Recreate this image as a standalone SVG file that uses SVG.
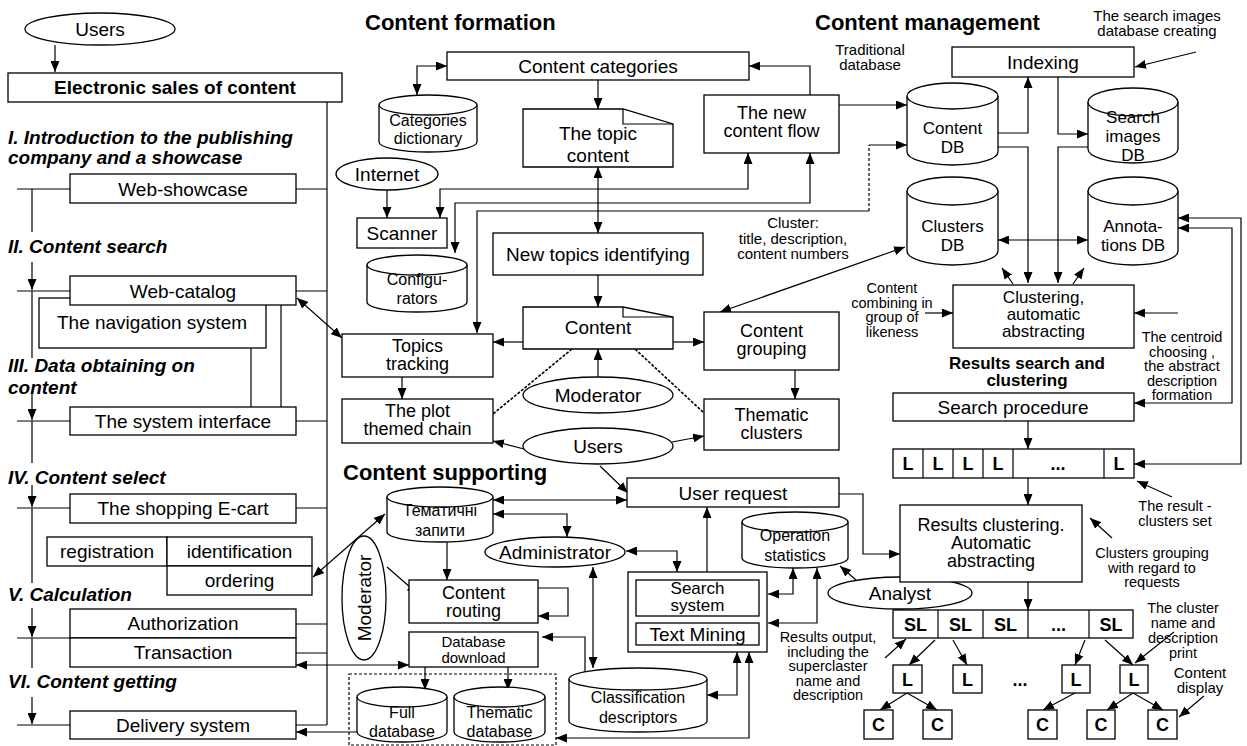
<svg xmlns="http://www.w3.org/2000/svg" width="1247" height="746" viewBox="0 0 1247 746">
<defs>
<marker id="ah" viewBox="0 0 11 9" refX="11" refY="4.5" markerWidth="11" markerHeight="9" markerUnits="userSpaceOnUse" orient="auto-start-reverse"><path d="M0,0 L11,4.5 L0,9 z" fill="#000"/></marker>
<style>
.b{fill:#fff;stroke:#000;stroke-width:1.3}
.l{fill:none;stroke:#000;stroke-width:1.2}
.a{marker-end:url(#ah)}
.d{marker-start:url(#ah);marker-end:url(#ah)}
.dot{stroke-dasharray:3,1.5;stroke-width:1.6}
.dash{stroke-dasharray:3,2}
text{font-family:"Liberation Sans",Arial,sans-serif;fill:#000}
.t{font-size:19px;text-anchor:middle}
.t2{font-size:18px;text-anchor:middle}
.t3{font-size:17px;text-anchor:middle}
.s{font-size:16px;text-anchor:middle}
.n{font-size:15px;text-anchor:middle}
.x{font-size:14.5px;text-anchor:middle}
.m{font-size:17px;text-anchor:middle}
.bi{font-size:19px;font-weight:bold;font-style:italic}
.h{font-size:22px;font-weight:bold}
.bl{font-size:18px;font-weight:bold;text-anchor:middle}
.bt{font-size:17px;font-weight:bold;text-anchor:middle}
</style>
</defs>

<g id="connectors">
<line class="l a" x1="55" y1="45" x2="55" y2="72"/>
<line class="l" x1="327" y1="102" x2="327" y2="725"/>
<path class="l" d="M17,189H70M17,291H70M17,421H70M17,508H70M17,638H70M17,725H70"/>
<path class="l" d="M296,189H327M296,291H327M296,421H327M296,508H327M296,624H327M296,653H327M296,725H327"/>
<path class="l" d="M251,348V407M281,305V407"/>
<path class="l" d="M32,189V232M32,291V358M32,421V463M32,508V583M32,638V668"/>
<line class="l a" x1="32" y1="262" x2="32" y2="290"/>
<line class="l a" x1="32" y1="393" x2="32" y2="420"/>
<line class="l a" x1="32" y1="485" x2="32" y2="507"/>
<line class="l a" x1="32" y1="608" x2="32" y2="637"/>
<line class="l a" x1="32" y1="697" x2="32" y2="724"/>
<line class="l d" x1="297" y1="298" x2="342" y2="338"/>
<line class="l d" x1="313" y1="577" x2="385" y2="514"/>
<line class="l d" x1="296" y1="665" x2="409" y2="665"/>
<line class="l a" x1="357" y1="732" x2="296" y2="732"/>

<path class="l d" d="M417,95V66H447"/>
<line class="l a" x1="598" y1="80" x2="598" y2="109"/>
<path class="l a" d="M810,95V66H749"/>
<line class="l a" x1="839" y1="105" x2="907" y2="105"/>
<path class="l d" d="M440,218V189H748V153"/>
<path class="l d" d="M455,253V203H810V153"/>
<path class="l a" d="M869,211H477V333"/>
<path class="l dash" d="M869,211V145"/>
<path class="l a" d="M869,145H907"/>
<line class="l a" x1="387" y1="190" x2="387" y2="218"/>
<line class="l d" x1="598" y1="167" x2="598" y2="233"/>
<line class="l a" x1="598" y1="275" x2="598" y2="307"/>
<line class="l a" x1="523" y1="342" x2="493" y2="342"/>
<line class="l a" x1="673" y1="342" x2="704" y2="342"/>
<line class="l a" x1="402" y1="377" x2="402" y2="399"/>
<line class="l dot" x1="572" y1="349" x2="493" y2="414"/>
<line class="l dot" x1="635" y1="349" x2="704" y2="413"/>
<line class="l a" x1="598" y1="377" x2="598" y2="349"/>
<line class="l a" x1="795" y1="370" x2="795" y2="399"/>
<line class="l a" x1="524" y1="449" x2="493" y2="441"/>
<line class="l a" x1="672" y1="442" x2="704" y2="436"/>
<line class="l a" x1="600" y1="466" x2="628" y2="493"/>
<line class="l d" x1="720" y1="312" x2="905" y2="247"/>

<line class="l d" x1="493" y1="500" x2="627" y2="500"/>
<path class="l d" d="M493,514H567V537"/>
<line class="l a" x1="447" y1="542" x2="447" y2="580"/>
<path class="l a" d="M538,588H568V616H538"/>
<line class="l a" x1="387" y1="567" x2="418" y2="594"/>
<line class="l a" x1="425" y1="667" x2="425" y2="690"/>
<line class="l a" x1="508" y1="667" x2="508" y2="690"/>
<path class="l a" d="M585,672V637H542"/>
<line class="l d" x1="593" y1="567" x2="593" y2="668"/>
<path class="l d" d="M626,551H677V572"/>
<line class="l a" x1="707" y1="572" x2="707" y2="507"/>
<path class="l d" d="M768,594H793V568"/>
<path class="l d" d="M768,623H817V568"/>
<path class="l d" d="M737,652V695H707"/>
<path class="l d" d="M749,652V738H556"/>
<line class="l a" x1="856" y1="580" x2="840" y2="566"/>
<line class="l a" x1="885" y1="658" x2="906" y2="639"/>

<line class="l a" x1="1196" y1="52" x2="1135" y2="67"/>
<path class="l a" d="M998,133H1028V77"/>
<path class="l a" d="M998,147H1028V283"/>
<path class="l a" d="M1058,77V134H1088"/>
<path class="l a" d="M1088,147H1058V283"/>
<line class="l d" x1="998" y1="240" x2="1088" y2="240"/>
<path class="l d" d="M1178,228H1232V403H1134"/>
<path class="l d" d="M1178,218H1241V464H1134"/>
<line class="l a" x1="1013" y1="284" x2="1002" y2="268"/>
<line class="l a" x1="1073" y1="284" x2="1084" y2="268"/>
<line class="l a" x1="925" y1="313" x2="953" y2="313"/>
<line class="l a" x1="1178" y1="313" x2="1134" y2="313"/>
<line class="l a" x1="1028" y1="421" x2="1028" y2="449"/>
<line class="l a" x1="1028" y1="478" x2="1028" y2="505"/>
<line class="l a" x1="1172" y1="497" x2="1137" y2="481"/>
<line class="l a" x1="1112" y1="538" x2="1090" y2="518"/>
<path class="l a" d="M839,494H863V554H900"/>
<line class="l a" x1="1028" y1="582" x2="1028" y2="610"/>
<line class="l a" x1="1174" y1="632" x2="1135" y2="663"/>
<line class="l a" x1="935" y1="640" x2="909" y2="665"/>
<line class="l a" x1="953" y1="640" x2="967" y2="665"/>
<line class="l a" x1="1085" y1="640" x2="1075" y2="665"/>
<line class="l a" x1="1105" y1="640" x2="1133" y2="665"/>
<line class="l a" x1="907" y1="693" x2="880" y2="710"/>
<line class="l a" x1="907" y1="693" x2="937" y2="710"/>
<line class="l a" x1="1075" y1="693" x2="1043" y2="710"/>
<line class="l a" x1="1133" y1="693" x2="1107" y2="710"/>
<line class="l a" x1="1133" y1="693" x2="1163" y2="710"/>
<line class="l a" x1="1204" y1="696" x2="1179" y2="717"/>
</g>

<g id="users-top"><ellipse class="b" cx="100" cy="29" rx="75" ry="16"/><text class="t" x="100" y="36">Users</text></g>
<g id="electronic-sales"><rect class="b" x="8" y="73" width="334" height="29"/><text x="175" y="94" style="font-size:19px;font-weight:bold;text-anchor:middle">Electronic sales of content</text></g>
<g id="section-titles">
<text class="bi" x="8" y="144">I. Introduction to the publishing</text>
<text class="bi" x="8" y="164">company and a showcase</text>
<text class="bi" x="8" y="253">II. Content search</text>
<text class="bi" x="8" y="372">III. Data obtaining on</text>
<text class="bi" x="8" y="394">content</text>
<text class="bi" x="8" y="484">IV. Content select</text>
<text class="bi" x="8" y="601">V. Calculation</text>
<text class="bi" x="8" y="688">VI. Content getting</text>
</g>
<g id="web-showcase"><rect class="b" x="70" y="174" width="226" height="29"/><text class="t" x="183" y="196">Web-showcase</text></g>
<g id="navigation-system"><rect class="b" x="39" y="298" width="227" height="50"/><text class="t" x="152" y="329">The navigation system</text></g>
<g id="web-catalog"><rect class="b" x="70" y="276" width="226" height="29"/><text class="t" x="183" y="298">Web-catalog</text></g>
<g id="system-interface"><rect class="b" x="70" y="407" width="226" height="28"/><text class="t" x="183" y="428">The system interface</text></g>
<g id="shopping-cart"><rect class="b" x="70" y="494" width="226" height="29"/><text class="t" x="183" y="515">The shopping E-cart</text></g>
<g id="registration"><rect class="b" x="47" y="537" width="120" height="29"/><text class="t" x="107" y="558">registration</text></g>
<g id="identification"><rect class="b" x="167" y="537" width="145" height="29"/><text class="t" x="239.5" y="558">identification</text></g>
<g id="ordering"><rect class="b" x="167" y="566" width="145" height="29"/><text class="t" x="239.5" y="587">ordering</text></g>
<g id="authorization"><rect class="b" x="70" y="609" width="226" height="29"/><text class="t" x="183" y="630">Authorization</text></g>
<g id="transaction"><rect class="b" x="70" y="638" width="226" height="29"/><text class="t" x="183" y="659">Transaction</text></g>
<g id="delivery-system"><rect class="b" x="70" y="711" width="226" height="28"/><text class="t" x="183" y="732">Delivery system</text></g>

<text class="h" x="365" y="30">Content formation</text>
<g id="content-categories"><rect class="b" x="447" y="52" width="302" height="28"/><text class="t" x="598" y="73">Content categories</text></g>
<g id="categories-dictionary"><path class="b" d="M379,105V142A49,10 0 0 0 477,142V105"/><ellipse class="b" cx="428" cy="105" rx="49" ry="10"/><text class="s" x="428" y="126">Categories</text><text class="s" x="428" y="144">dictionary</text></g>
<g id="topic-content"><path class="b" d="M523,109H623L673,124V167H523Z"/><path class="l" d="M623,109V124H673"/><text class="t" x="598" y="140">The topic</text><text class="t" x="598" y="162">content</text></g>
<g id="new-content-flow"><rect class="b" x="704" y="95" width="135" height="58"/><text class="t2" x="771.5" y="119">The new</text><text class="t2" x="771.5" y="137">content flow</text></g>
<g id="internet"><ellipse class="b" cx="387" cy="174" rx="51" ry="16"/><text class="t" x="387" y="181">Internet</text></g>
<g id="scanner"><rect class="b" x="357" y="218" width="90" height="30"/><text class="t" x="402" y="240">Scanner</text></g>
<g id="configurators"><path class="b" d="M367,265V302A50,10 0 0 0 467,302V265"/><ellipse class="b" cx="417" cy="265" rx="50" ry="10"/><text class="s" x="417" y="285">Configu-</text><text class="s" x="417" y="304">rators</text></g>
<g id="new-topics"><rect class="b" x="493" y="233" width="210" height="42"/><text class="t" x="598" y="261">New topics identifying</text></g>
<g id="content"><path class="b" d="M523,307H623L673,317V349H523Z"/><path class="l" d="M623,307V317H673"/><text class="t" x="598" y="334">Content</text></g>
<g id="topics-tracking"><rect class="b" x="342" y="334" width="151" height="43"/><text class="t2" x="417.5" y="352">Topics</text><text class="t2" x="417.5" y="370">tracking</text></g>
<g id="plot-chain"><rect class="b" x="342" y="399" width="151" height="44"/><text class="t2" x="417.5" y="417">The plot</text><text class="t2" x="417.5" y="435">themed chain</text></g>
<g id="moderator"><ellipse class="b" cx="598" cy="395" rx="75" ry="18"/><text class="t" x="598" y="402">Moderator</text></g>
<g id="content-grouping"><rect class="b" x="704" y="312" width="135" height="58"/><text class="t2" x="771.5" y="337">Content</text><text class="t2" x="771.5" y="355">grouping</text></g>
<g id="thematic-clusters"><rect class="b" x="704" y="399" width="135" height="51"/><text class="t2" x="771.5" y="421">Thematic</text><text class="t2" x="771.5" y="439">clusters</text></g>
<g id="users-mid"><ellipse class="b" cx="598" cy="446" rx="75" ry="18"/><text class="t" x="598" y="453">Users</text></g>
<g id="cluster-label"><text class="n" x="793" y="228">Cluster:</text><text class="n" x="793" y="243.5">title, description,</text><text class="n" x="793" y="259">content numbers</text></g>

<text class="h" x="343" y="480">Content supporting</text>
<g id="user-request"><rect class="b" x="627" y="478" width="212" height="29"/><text class="t" x="733" y="500">User request</text></g>
<g id="thematic-queries"><path class="b" d="M387,497V532A53,10 0 0 0 493,532V497"/><ellipse class="b" cx="440" cy="497" rx="53" ry="10"/><text class="s" x="440" y="516">Тематичні</text><text class="s" x="440" y="536">запити</text></g>
<g id="administrator"><ellipse class="b" cx="555" cy="552" rx="70" ry="15"/><text class="t" x="555" y="559">Administrator</text></g>
<g id="content-routing"><rect class="b" x="409" y="580" width="129" height="43"/><text class="t2" x="473.5" y="599">Content</text><text class="t2" x="473.5" y="617">routing</text></g>
<g id="moderator-v"><ellipse class="b" cx="364" cy="598" rx="22" ry="62"/><text class="t" transform="translate(371,598) rotate(-90)">Moderator</text></g>
<g id="database-download"><rect class="b" x="409" y="632" width="129" height="35"/><text class="n" x="473.5" y="647">Database</text><text class="n" x="473.5" y="663">download</text></g>
<g id="db-group"><rect class="l dash" x="349" y="674" width="207" height="71"/></g>
<g id="full-database"><path class="b" d="M357,697V732A45,10 0 0 0 447,732V697"/><ellipse class="b" cx="402" cy="697" rx="45" ry="10"/><text class="s" x="402" y="718">Full</text><text class="s" x="402" y="737">database</text></g>
<g id="thematic-database"><path class="b" d="M454,697V732A45.5,10 0 0 0 545,732V697"/><ellipse class="b" cx="499.5" cy="697" rx="45.5" ry="10"/><text class="s" x="499.5" y="718">Thematic</text><text class="s" x="499.5" y="737">database</text></g>
<g id="classification"><path class="b" d="M569,679V721A69,11 0 0 0 707,721V679"/><ellipse class="b" cx="638" cy="679" rx="69" ry="11"/><text class="s" x="638" y="703">Classification</text><text class="s" x="638" y="723">descriptors</text></g>
<g id="search-system"><rect class="b" x="628" y="572" width="139" height="80"/><rect class="b" x="636" y="580" width="123" height="36"/><rect class="b" x="636" y="623" width="123" height="22"/><text class="t3" x="697.5" y="594">Search</text><text class="t3" x="697.5" y="611">system</text><text class="t" x="697.5" y="641">Text Mining</text></g>
<g id="operation-statistics"><path class="b" d="M742,522V558A53,10 0 0 0 848,558V522"/><ellipse class="b" cx="795" cy="522" rx="53" ry="10"/><text class="s" x="795" y="541">Operation</text><text class="s" x="795" y="561">statistics</text></g>
<g id="analyst"><ellipse class="b" cx="900" cy="593" rx="72" ry="16"/><text class="t" x="900" y="600">Analyst</text></g>
<g id="results-output-label"><text class="x" x="828" y="642">Results output,</text><text class="x" x="828" y="656.5">including the</text><text class="x" x="828" y="671">superclaster</text><text class="x" x="828" y="685.5">name and</text><text class="x" x="828" y="700">description</text></g>

<text class="h" x="815" y="30">Content management</text>
<g id="traditional-label"><text class="n" x="870" y="55">Traditional</text><text class="n" x="870" y="70">database</text></g>
<g id="search-images-label"><text class="n" x="1157" y="21">The search images</text><text class="n" x="1157" y="36">database creating</text></g>
<g id="indexing"><rect class="b" x="952" y="47" width="182" height="30"/><text class="t" x="1043" y="69">Indexing</text></g>
<g id="content-db"><path class="b" d="M907,96V152A45.5,13 0 0 0 998,152V96"/><ellipse class="b" cx="952.5" cy="96" rx="45.5" ry="13"/><text class="m" x="952.5" y="134">Content</text><text class="m" x="952.5" y="153">DB</text></g>
<g id="search-images-db"><path class="b" d="M1088,102V149A45,14 0 0 0 1178,149V102"/><ellipse class="b" cx="1133" cy="102" rx="45" ry="14"/><text class="m" x="1133" y="123">Search</text><text class="m" x="1133" y="142">images</text><text class="m" x="1133" y="161">DB</text></g>
<g id="clusters-db"><path class="b" d="M907,191V251A45.5,14 0 0 0 998,251V191"/><ellipse class="b" cx="952.5" cy="191" rx="45.5" ry="14"/><text class="m" x="952.5" y="232">Clusters</text><text class="m" x="952.5" y="251">DB</text></g>
<g id="annotations-db"><path class="b" d="M1088,191V251A45,14 0 0 0 1178,251V191"/><ellipse class="b" cx="1133" cy="191" rx="45" ry="14"/><text class="m" x="1133" y="232">Annota-</text><text class="m" x="1133" y="251">tions DB</text></g>
<g id="clustering"><rect class="b" x="953" y="285" width="181" height="63"/><text class="t3" x="1043.5" y="303">Clustering,</text><text class="t3" x="1043.5" y="320">automatic</text><text class="t3" x="1043.5" y="337">abstracting</text></g>
<g id="combining-label"><text class="x" x="892" y="293">Content</text><text class="x" x="892" y="307.5">combining in</text><text class="x" x="892" y="322">group of</text><text class="x" x="892" y="336.5">likeness</text></g>
<g id="centroid-label"><text class="x" x="1182" y="342">The centroid</text><text class="x" x="1182" y="356.5">choosing ,</text><text class="x" x="1182" y="371">the abstract</text><text class="x" x="1182" y="385.5">description</text><text class="x" x="1182" y="400">formation</text></g>
<g id="results-title"><text class="bt" x="1027" y="369">Results search and</text><text class="bt" x="1027" y="386">clustering</text></g>
<g id="search-procedure"><rect class="b" x="893" y="393" width="241" height="28"/><text class="t" x="1013" y="414">Search procedure</text></g>
<g id="l-bar"><rect class="b" x="893" y="449" width="241" height="29"/><path class="l" d="M923,449V478M953,449V478M983,449V478M1013,449V478M1104,449V478"/>
<text class="bl" x="908" y="470">L</text><text class="bl" x="938" y="470">L</text><text class="bl" x="968" y="470">L</text><text class="bl" x="998" y="470">L</text><text class="bl" x="1058" y="470">...</text><text class="bl" x="1119" y="470">L</text></g>
<g id="result-set-label"><text class="x" x="1175" y="511">The result -</text><text class="x" x="1175" y="525.5">clusters set</text></g>
<g id="results-clustering"><rect class="b" x="900" y="505" width="182" height="77"/><text class="t2" x="991" y="531">Results clustering.</text><text class="t2" x="991" y="549">Automatic</text><text class="t2" x="991" y="567">abstracting</text></g>
<g id="grouping-label"><text class="x" x="1152" y="558">Clusters grouping</text><text class="x" x="1152" y="572.5">with regard to</text><text class="x" x="1152" y="587">requests</text></g>
<g id="sl-bar"><rect class="b" x="893" y="610" width="240" height="28"/><path class="l" d="M938,610V638M983,610V638M1028,610V638M1089,610V638"/>
<text class="bl" x="915.5" y="631">SL</text><text class="bl" x="960.5" y="631">SL</text><text class="bl" x="1005.5" y="631">SL</text><text class="bl" x="1058.5" y="631">...</text><text class="bl" x="1111" y="631">SL</text></g>
<g id="cluster-name-label"><text class="x" x="1183" y="613">The cluster</text><text class="x" x="1183" y="628">name and</text><text class="x" x="1183" y="643">description</text><text class="x" x="1183" y="658">print</text></g>
<g id="l1"><rect class="b" x="893" y="665" width="29" height="28"/><text class="bl" x="907.5" y="686">L</text></g>
<g id="l2"><rect class="b" x="953" y="665" width="29" height="28"/><text class="bl" x="967.5" y="686">L</text></g>
<text class="bl" x="1020" y="686">...</text>
<g id="l3"><rect class="b" x="1062" y="665" width="28" height="28"/><text class="bl" x="1076" y="686">L</text></g>
<g id="l4"><rect class="b" x="1120" y="665" width="28" height="28"/><text class="bl" x="1134" y="686">L</text></g>
<g id="c1"><rect class="b" x="864" y="710" width="29" height="29"/><text class="bl" x="878.5" y="731">C</text></g>
<g id="c2"><rect class="b" x="923" y="710" width="29" height="29"/><text class="bl" x="937.5" y="731">C</text></g>
<g id="c3"><rect class="b" x="1028" y="710" width="29" height="29"/><text class="bl" x="1042.5" y="731">C</text></g>
<g id="c4"><rect class="b" x="1087" y="710" width="28" height="29"/><text class="bl" x="1101" y="731">C</text></g>
<g id="c5"><rect class="b" x="1148" y="710" width="29" height="29"/><text class="bl" x="1162.5" y="731">C</text></g>
<g id="display-label"><text class="n" x="1200" y="678">Content</text><text class="n" x="1200" y="693">display</text></g>
</svg>
